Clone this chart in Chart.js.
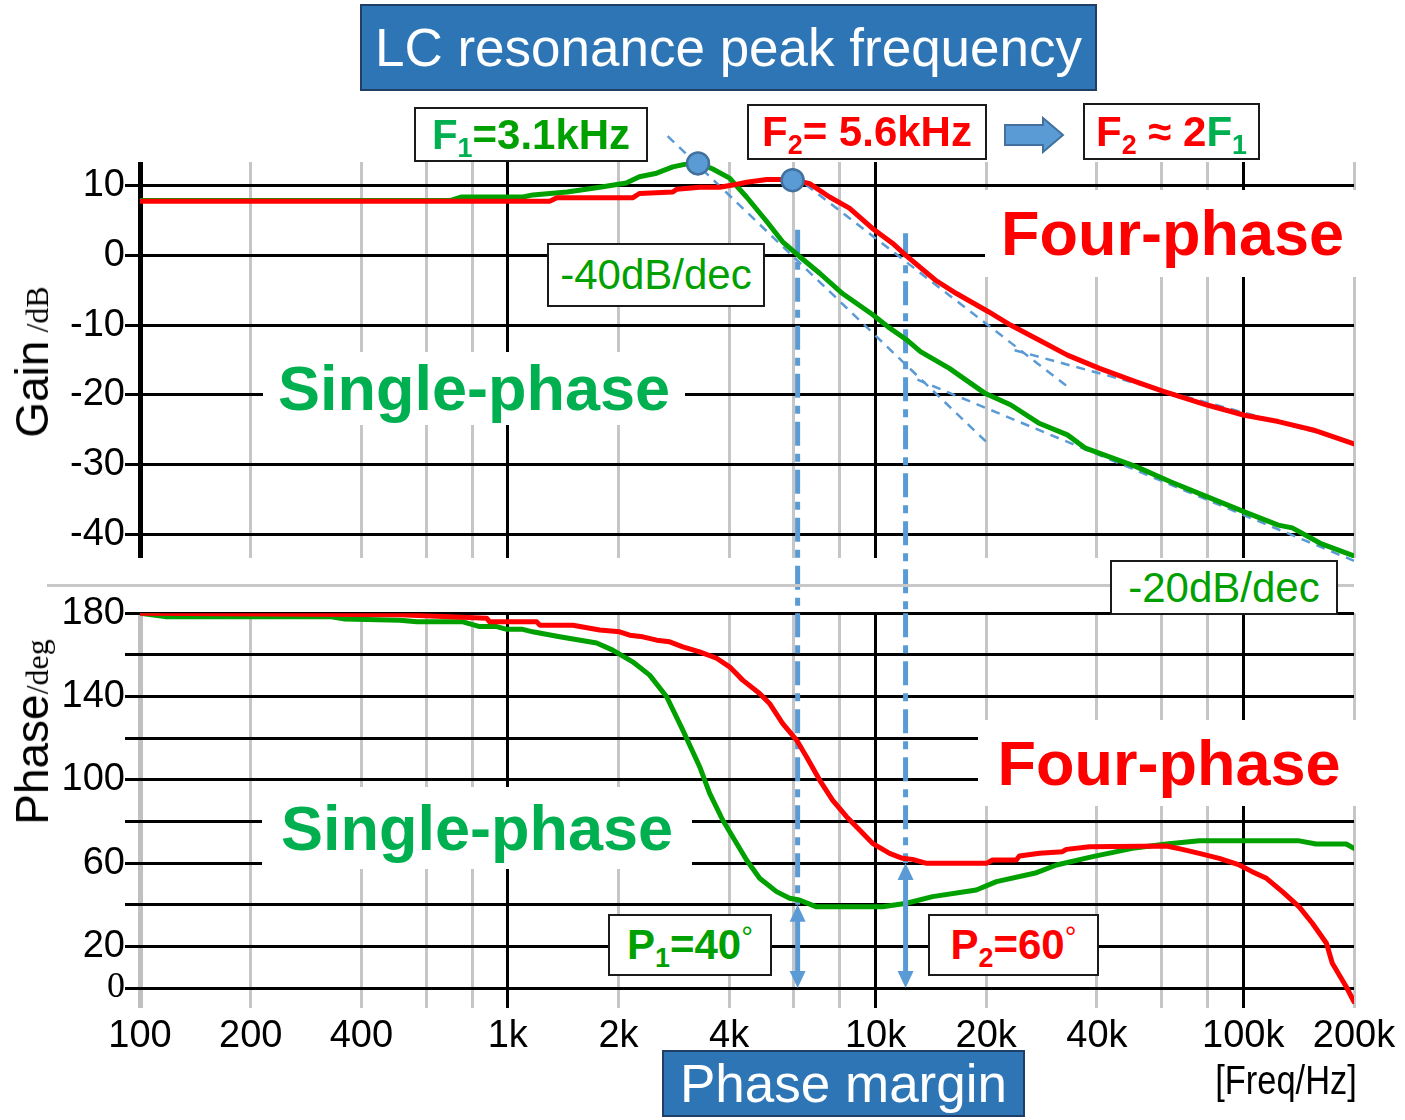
<!DOCTYPE html>
<html>
<head>
<meta charset="utf-8">
<script src="https://cdn.jsdelivr.net/npm/chart.js@4.4.1/dist/chart.umd.min.js"></script>
<style>
  html, body { margin: 0; padding: 0; background: #fff; }
  #page { position: relative; width: 1405px; height: 1120px; overflow: hidden; font-family: 'Liberation Sans', Arial, sans-serif; }
  canvas { position: absolute; left: 0; }
  #gainCanvas { top: 0; }
  #phaseCanvas { top: 560px; }
  .lbl { position: absolute; text-align: center; white-space: nowrap; background: #fff; box-sizing: border-box; }
  .boxed { border: 2px solid #1a1a1a; }
  .blue { background: #2e75b6; border: 2px solid #1f3f66; color: #fff; font-size: 53px; }
  .big { font-weight: bold; font-size: 63px; }
  .mid { font-weight: bold; font-size: 42px; }
  .slope { font-size: 42px; color: #00a000; }
  .red { color: #ff0000; }
  .lgreen { color: #00b050; }
  .dgreen { color: #00a000; }
  sub { font-size: 0.64em; vertical-align: -0.3em; line-height: 0; }
  .deg { font-weight: normal; font-size: 0.7em; vertical-align: 0.42em; line-height: 0; }
  .ytitle { position: absolute; transform: translate(-50%, -50%) rotate(-90deg); white-space: nowrap; font-size: 46px; line-height: 1; color: #000; }
  .ytitle span { font-family: 'Liberation Serif', 'Times New Roman', serif; font-size: 32px; }
  #sep { position: absolute; left: 47px; top: 584px; width: 1307px; height: 3px; background: #c8c8c8; }
  #unit { position: absolute; left: 1196px; top: 1055px; width: 180px; height: 50px; line-height: 50px; text-align: center;
          font-size: 41px; transform: scaleX(0.84); white-space: nowrap; }
</style>
</head>
<body>
<div id="page">
  <canvas id="gainCanvas" width="1405" height="620"></canvas>
  <canvas id="phaseCanvas" width="1405" height="560"></canvas>

  <div id="sep"></div>

  <div class="ytitle" style="left:32px; top:362px;">Gain<span> /dB</span></div>
  <div class="ytitle" style="left:32px; top:732px;">Phase<span>/deg</span></div>

  <div class="lbl blue" style="left:360px; top:4px; width:737px; height:87px; line-height:83px;">LC resonance peak frequency</div>
  <div class="lbl blue" style="left:662px; top:1050px; width:363px; height:67px; line-height:63px;">Phase margin</div>

  <div class="lbl boxed mid" style="left:414px; top:107px; width:234px; height:55px; line-height:51px;"><span class="lgreen">F<sub>1</sub></span><span class="dgreen">=3.1kHz</span></div>
  <div class="lbl boxed mid red" style="left:747px; top:104px; width:240px; height:56px; line-height:52px;">F<sub>2</sub>= 5.6kHz</div>
  <svg style="position:absolute; left:1003px; top:116px;" width="62" height="38">
    <polygon points="2,9 40,9 40,2 60,19 40,36 40,29 2,29" fill="#5b9bd5" stroke="#41719c" stroke-width="2"/>
  </svg>
  <div class="lbl boxed mid" style="left:1083px; top:103px; width:177px; height:57px; line-height:53px;"><span class="red">F<sub>2</sub> &#8776; 2</span><span class="lgreen">F<sub>1</sub></span></div>

  <div class="lbl boxed slope" style="left:547px; top:243px; width:218px; height:64px; line-height:60px;">-40dB/dec</div>
  <div class="lbl boxed slope" style="left:1110px; top:560px; width:228px; height:55px; line-height:51px;">-20dB/dec</div>

  <div class="lbl big lgreen" style="left:263px; top:352px; width:422px; height:73px; line-height:73px;">Single-phase</div>
  <div class="lbl big red" style="left:985px; top:190px; width:375px; height:87px; line-height:87px;">Four-phase</div>
  <div class="lbl big lgreen" style="left:262px; top:787px; width:430px; height:82px; line-height:82px;">Single-phase</div>
  <div class="lbl big red" style="left:978px; top:720px; width:382px; height:86px; line-height:86px;">Four-phase</div>

  <div class="lbl boxed mid dgreen" style="left:608px; top:914px; width:164px; height:62px; line-height:58px;">P<sub>1</sub>=40<span class="deg">&#176;</span></div>
  <div class="lbl boxed mid red" style="left:928px; top:914px; width:171px; height:62px; line-height:58px;">P<sub>2</sub>=60<span class="deg">&#176;</span></div>

  <div id="unit">[Freq/Hz]</div>
</div>

<script>
// frequency axis (Hz)
const xTickValues = [100, 200, 400, 600, 800, 1000, 2000, 4000, 6000, 8000, 10000, 20000, 40000, 60000, 80000, 100000, 200000];
const xTickLabels = ['100', '200', '400', '', '', '1k', '2k', '4k', '', '', '10k', '20k', '40k', '', '', '100k', '200k'];
const gainTicks = [-40, -30, -20, -10, 0, 10];
const phaseTicks = [0, 20, 40, 60, 80, 100, 120, 140, 160, 180];
const phaseLabelled = [180, 140, 100, 60, 20, 0];

// gain, single-phase
const gainSingleHz = [100, 700, 750, 1100, 1170, 1450, 1780, 2100, 2280, 2540, 2810, 3120, 3290, 3610, 4010, 4460, 5060, 5590, 6210, 7050, 8130, 9810, 10840, 12140, 13250, 15880, 19900, 23280, 27740, 33250, 37230, 50930, 63390, 79290, 100700, 124500, 135900, 161900, 200000];
const gainSingleDb = [7.8, 7.8, 8.3, 8.3, 8.6, 9.0, 9.7, 10.3, 11.2, 11.7, 12.6, 13.1, 13.2, 12.3, 11.0, 8.3, 4.8, 1.9, -0.2, -2.6, -5.5, -8.5, -10.3, -12.1, -13.8, -16.2, -19.8, -21.4, -24.0, -25.7, -27.6, -30.2, -32.4, -34.5, -36.7, -38.6, -39.0, -41.2, -43.0];

// gain, four-phase
const gainFourHz = [100, 1300, 1360, 2190, 2280, 2810, 2880, 3330, 3770, 4090, 4460, 5060, 5950, 6620, 7500, 8490, 9810, 11120, 12070, 14560, 16600, 20280, 23280, 27740, 33250, 40640, 50930, 60670, 79290, 100700, 124500, 154900, 200000];
const gainFourDb = [7.7, 7.7, 8.2, 8.2, 8.8, 9.0, 9.4, 9.7, 9.7, 10.0, 10.4, 10.8, 10.8, 10.2, 8.3, 6.7, 3.8, 1.7, 0.0, -3.6, -5.5, -8.1, -10.0, -12.1, -14.3, -16.2, -18.1, -19.5, -21.4, -22.9, -23.8, -25.0, -27.0];

// phase, single-phase
const phaseSingleHz = [100, 117, 328, 361, 509, 566, 755, 839, 933, 994, 1098, 1169, 1384, 1745, 1929, 2186, 2431, 2704, 2992, 3325, 3540, 3840, 4460, 4840, 5380, 5840, 6210, 6910, 10450, 12140, 14290, 18790, 21320, 27400, 31060, 38930, 49940, 61780, 75920, 141900, 157800, 190500, 200000];
const phaseSingleDeg = [180, 178.4, 178.4, 177.3, 176.7, 175.9, 175.9, 173.6, 173.6, 172.3, 172.3, 171.1, 168.7, 165.7, 162.3, 156.7, 150.3, 139.9, 123.9, 106.3, 93.5, 80.7, 61.5, 52.7, 46.3, 43.1, 42.3, 39.0, 39.0, 40.7, 43.9, 47.1, 51.1, 55.4, 59.1, 63.1, 67.1, 69.2, 70.7, 70.7, 69.2, 69.2, 67.1];

// phase, four-phase
const phaseFourHz = [100, 509, 877, 893, 1199, 1222, 1504, 1778, 2014, 2146, 2328, 2541, 2756, 2992, 3325, 3697, 4010, 4353, 4840, 5150, 5587, 6100, 6490, 7046, 7640, 8340, 9050, 9814, 10920, 11840, 12610, 13770, 20040, 20800, 24150, 24610, 27920, 32220, 33020, 38180, 61780, 68260, 75920, 86050, 97500, 105700, 115600, 127700, 141900, 154100, 168300, 174600, 190500, 200000];
const phaseFourDeg = [180, 179.3, 177.6, 175.9, 175.9, 174.3, 174.3, 172.0, 171.1, 169.5, 168.7, 167.1, 166.3, 163.9, 161.5, 158.4, 154.3, 147.9, 141.5, 136.7, 127.1, 119.1, 111.1, 99.9, 90.3, 82.3, 75.9, 69.5, 64.7, 62.3, 61.8, 59.9, 59.9, 61.5, 61.5, 63.4, 64.7, 65.5, 66.6, 67.9, 68.2, 66.6, 64.7, 62.3, 59.1, 55.9, 52.7, 46.3, 39.0, 31.1, 21.5, 11.9, 0.6, -6.6];

// resonance peaks [Hz, dB]
const peakHz = [3290, 5950];
const peakDb = [13.1, 10.7];

// asymptotes [Hz, dB] pairs
const slopeSingle40 = [[2721, 17.0], [20090, -26.8]];
const slopeSingle20 = [[13000, -17.8], [200000, -43.7]];
const slopeFour40 = [[6460, 10.1], [33650, -19.0]];
const slopeFour20 = [[23880, -13.6], [200000, -26.8]];

// gain crossover frequencies and phase margins
const crossoverHz = [6140, 12070];
const crossoverTopDb = [3.6, 3.1];
const phaseMargin = [40, 60];

const GREEN = '#00a000';
const RED = '#ff0000';
const BLUE = '#5b9bd5';
const GRAY = '#c6c6c6';

const tickFont = { family: "'Liberation Sans', Arial, sans-serif", size: 38 };
const serifFont = { family: "'Liberation Serif', 'Times New Roman', serif", size: 36 };

const zip = (xs, ys) => xs.map((x, i) => ({ x: x, y: ys[i] }));
const pairs = p => p.map(([x, y]) => ({ x: x, y: y }));
const isDecade = v => v === 1000 || v === 10000 || v === 100000;

function curve(xs, ys, color) {
  return { data: zip(xs, ys), borderColor: color, borderWidth: 5, pointRadius: 0, tension: 0,
           borderJoinStyle: 'round', borderCapStyle: 'round', order: 2 };
}

function slopeLine(p) {
  return { data: pairs(p), borderColor: BLUE, borderWidth: 2.5, borderDash: [9, 7], pointRadius: 0, clip: false, order: 3 };
}

function dashDot(data) {
  return { data: data, borderColor: BLUE, borderWidth: 5, borderDash: [24, 8, 8, 8], pointRadius: 0, clip: false, order: 4 };
}

function freqAxis(leftColor, leftWidth, showLabels) {
  return {
    type: 'logarithmic', min: 100, max: 200000,
    afterBuildTicks: s => { s.ticks = xTickValues.map(v => ({ value: v })); },
    afterFit: s => { s.height = showLabels ? 112 : 0; },
    border: { display: false },
    grid: {
      color: c => c.tick.value === 100 ? leftColor : (isDecade(c.tick.value) ? '#000' : GRAY),
      lineWidth: c => c.tick.value === 100 ? leftWidth : 3,
      drawTicks: false
    },
    ticks: {
      display: showLabels, autoSkip: false, maxRotation: 0, minRotation: 0, padding: 6,
      color: '#000', font: tickFont,
      callback: (v, i) => xTickLabels[i]
    }
  };
}

const common = {
  responsive: false,
  animation: false,
  events: [],
  plugins: { legend: { display: false }, tooltip: { enabled: false } }
};

new Chart(document.getElementById('gainCanvas'), {
  type: 'line',
  data: {
    datasets: [
      { data: zip(peakHz, peakDb), showLine: false, pointRadius: 11, pointBackgroundColor: BLUE,
        pointBorderColor: '#41719c', pointBorderWidth: 2.5, clip: false, order: 0 },
      curve(gainFourHz, gainFourDb, RED),
      curve(gainSingleHz, gainSingleDb, GREEN),
      slopeLine(slopeSingle40),
      slopeLine(slopeSingle20),
      slopeLine(slopeFour40),
      slopeLine(slopeFour20),
      dashDot([{ x: crossoverHz[0], y: crossoverTopDb[0] }, { x: crossoverHz[0], y: -51.1 }]),
      dashDot([{ x: crossoverHz[1], y: crossoverTopDb[1] }, { x: crossoverHz[1], y: -51.1 }])
    ]
  },
  options: Object.assign({}, common, {
    layout: { padding: { top: 162, right: 51, bottom: 62, left: 0 } },
    scales: {
      x: freqAxis('#000', 5, false),
      y: {
        min: -43.3, max: 13.3,
        afterBuildTicks: s => { s.ticks = gainTicks.map(v => ({ value: v })); },
        afterFit: s => { s.width = 140; },
        border: { display: false },
        grid: { color: '#000', lineWidth: 3, tickLength: 15 },
        ticks: { color: '#000', font: tickFont, padding: 0, autoSkip: false }
      }
    }
  })
});

// solid double-headed arrows marking the phase margin at each crossover
const marginArrows = {
  id: 'marginArrows',
  afterDatasetsDraw(chart) {
    const { ctx, scales: { x, y } } = chart;
    const head = 17, half = 8;
    ctx.save();
    ctx.strokeStyle = BLUE;
    ctx.fillStyle = BLUE;
    ctx.lineWidth = 5;
    crossoverHz.forEach((f, i) => {
      const px = x.getPixelForValue(f);
      const top = y.getPixelForValue(phaseMargin[i]);
      const bottom = y.getPixelForValue(0);
      ctx.beginPath();
      ctx.moveTo(px, top + head - 2);
      ctx.lineTo(px, bottom - head + 2);
      ctx.stroke();
      [[top, 1], [bottom, -1]].forEach(([tip, dir]) => {
        ctx.beginPath();
        ctx.moveTo(px, tip);
        ctx.lineTo(px - half, tip + dir * head);
        ctx.lineTo(px + half, tip + dir * head);
        ctx.closePath();
        ctx.fill();
      });
    });
    ctx.restore();
  }
};

new Chart(document.getElementById('phaseCanvas'), {
  type: 'line',
  data: {
    datasets: [
      curve(phaseFourHz, phaseFourDeg, RED),
      curve(phaseSingleHz, phaseSingleDeg, GREEN),
      dashDot([{ x: crossoverHz[0], y: 180 }, { x: crossoverHz[0], y: phaseMargin[0] }]),
      dashDot([{ x: crossoverHz[1], y: 180 }, { x: crossoverHz[1], y: phaseMargin[1] }])
    ]
  },
  options: Object.assign({}, common, {
    layout: { padding: { top: 53.3, right: 51, bottom: 0, left: 0 } },
    scales: {
      x: freqAxis('#c0c0c0', 5, true),
      y: {
        min: -9.6, max: 180,
        afterBuildTicks: s => { s.ticks = phaseTicks.map(v => ({ value: v })); },
        afterFit: s => { s.width = 140; },
        border: { display: false },
        grid: { color: '#000', lineWidth: 3, tickLength: 15 },
        ticks: {
          color: '#000', padding: 0, autoSkip: false,
          font: c => (c.tick && c.tick.value === 0) ? serifFont : tickFont,
          callback: v => phaseLabelled.includes(v) ? String(v) : ''
        }
      }
    }
  }),
  plugins: [marginArrows]
});
</script>
</body>
</html>
